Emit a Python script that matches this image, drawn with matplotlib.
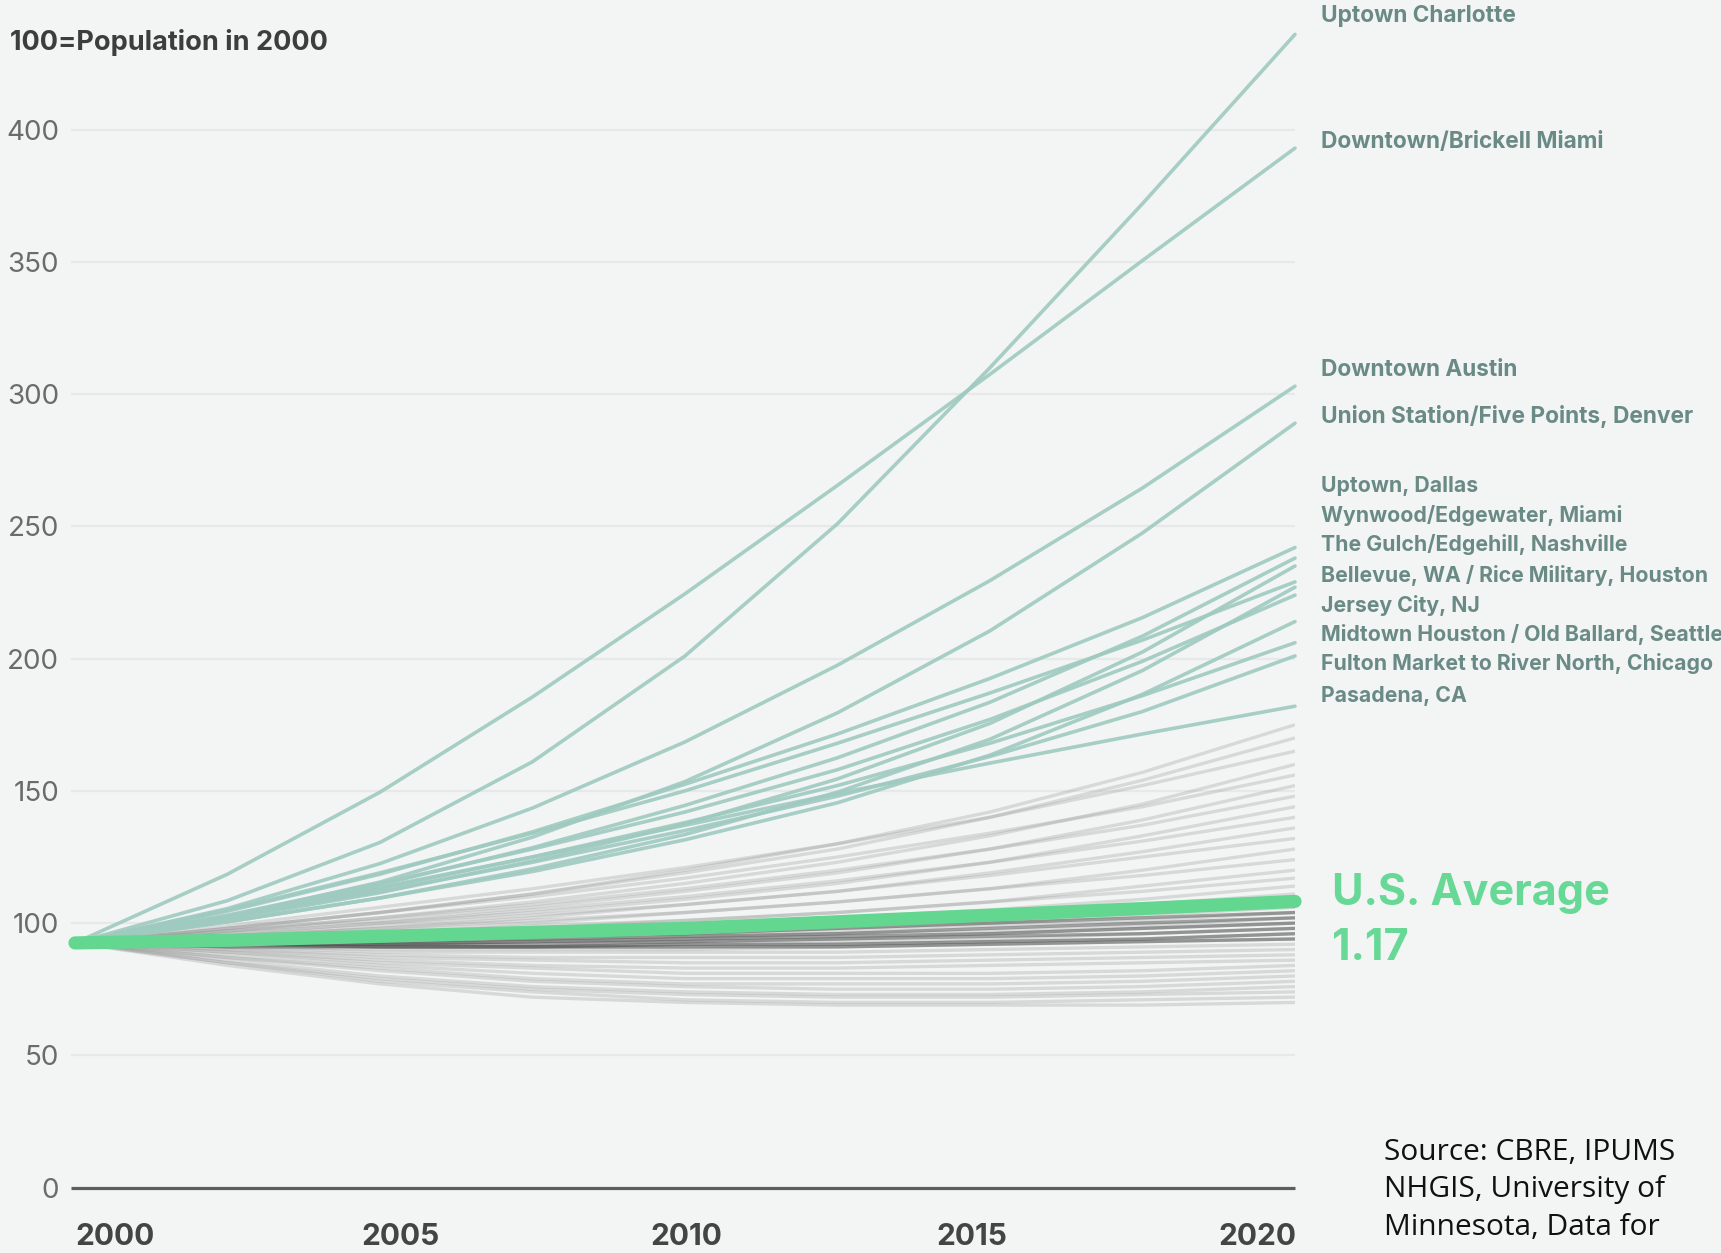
import matplotlib
matplotlib.use("Agg")
import matplotlib.pyplot as plt
import numpy as np

# index values, 100 = population in 2000 (read every 2.5 years)
years = [2000, 2002.5, 2005, 2007.5, 2010, 2012.5, 2015, 2017.5, 2020]

hot_names = ["Uptown Charlotte", "Downtown/Brickell Miami", "Downtown Austin",
             "Union Station/Five Points, Denver", "Uptown, Dallas",
             "Wynwood/Edgewater, Miami", "The Gulch/Edgehill, Nashville",
             "Bellevue, WA", "Rice Military, Houston", "Jersey City, NJ",
             "Midtown Houston", "Old Ballard, Seattle",
             "Fulton Market to River North, Chicago", "Pasadena, CA"]
hot_values = [
    [92.5, 108.5, 130.5, 161, 201, 251, 310, 372, 436],
    [92.5, 118.5, 149.5, 185.5, 224.5, 265.5, 307.5, 350.5, 393],
    [92.5, 105.5, 122.5, 143.5, 168.5, 197.5, 229.5, 264.5, 303],
    [92.5, 102.5, 115.5, 132.5, 153.5, 179.5, 210.5, 247.5, 289],
    [92.5, 104.5, 118.5, 134.5, 152.5, 171.5, 192.5, 215.5, 242],
    [92.5, 102.5, 114.5, 128.5, 144.5, 162.5, 183.5, 208.5, 238],
    [92.5, 101.5, 111.5, 123.5, 137.5, 154.5, 175.5, 202.5, 235],
    [92.5, 105, 119, 134, 150, 168, 187, 207, 229],
    [92.5, 100.5, 109.5, 120.5, 133.5, 149.5, 169.5, 195.5, 227],
    [92.5, 103, 115, 128, 142, 158, 177, 199, 224],
    [92.5, 100.5, 109.5, 119.5, 131.5, 145.5, 163.5, 186.5, 214],
    [92.5, 102, 113, 125, 138, 152, 168, 186, 206],
    [92.5, 102, 112, 123, 135, 148, 163, 180, 201],
    [92.5, 102.5, 113.5, 125, 137, 149, 160.5, 171.5, 182],
]

# right-hand labels (two of them cover a pair of neighbourhoods)
label_names = ["Uptown Charlotte", "Downtown/Brickell Miami", "Downtown Austin",
               "Union Station/Five Points, Denver", "Uptown, Dallas",
               "Wynwood/Edgewater, Miami", "The Gulch/Edgehill, Nashville",
               "Bellevue, WA / Rice Military, Houston", "Jersey City, NJ",
               "Midtown Houston / Old Ballard, Seattle",
               "Fulton Market to River North, Chicago", "Pasadena, CA"]
label_y = [443.0, 395.5, 309, 291.6, 265.2, 254.2, 243.3, 231.5, 220.2, 209.3, 198.3, 186]
label_size = [16.3, 16.3, 16.3, 16.3, 15.3, 15.3, 15.3, 15.3, 15.3, 15.3, 15.3, 15.3]

us_average = [92.5, 93.5, 95, 96.5, 98, 100.5, 103, 105.5, 108.2]
us_ratio = "1.17"

other_values = [
    [92.5, 98, 104, 111, 120, 130, 142, 157, 175],
    [92.5, 98, 104, 111, 119, 128, 140, 154, 170],
    [92.5, 99, 106, 113, 121, 130, 140, 152, 165],
    [92.5, 97, 102, 108, 115, 123, 133, 145, 160],
    [92.5, 98, 104, 110, 117, 125, 134, 144, 156],
    [92.5, 97, 101, 106, 112, 119, 128, 139, 152],
    [92.5, 97, 102, 107, 113, 120, 128, 137, 148],
    [92.5, 96, 100, 104, 109, 115, 123, 133, 144],
    [92.5, 96, 100, 105, 110, 116, 123, 131, 140],
    [92.5, 95, 98, 102, 107, 112, 119, 127, 136],
    [92.5, 95, 99, 103, 107, 112, 118, 125, 132],
    [92.5, 94, 97, 100, 104, 108, 113, 120, 128],
    [92.5, 95, 98, 101, 104, 108, 113, 118, 124],
    [92.5, 94, 96, 98, 101, 104, 108, 114, 120],
    [92.5, 94, 96, 99, 101, 104, 108, 112, 117],
    [92.5, 93, 95, 97, 99, 102, 105, 109, 114],
    [92.5, 94, 95, 97, 99, 101, 104, 107, 111],
    [92.5, 93, 94, 96, 97, 99, 101, 104, 108],
    [92.5, 93, 94, 95, 96, 98, 100, 103, 106],
    [92.5, 93, 93, 94, 95, 97, 99, 101, 104],
    [92.5, 92, 92, 93, 94, 96, 97, 99, 102],
    [92.5, 92, 92, 93, 93, 94, 96, 98, 100],
    [92.5, 92, 91, 91, 92, 93, 94, 96, 98],
    [92.5, 92, 91, 91, 91, 92, 93, 94, 96],
    [92.5, 91, 90, 90, 90, 91, 92, 93, 94],
    [92.5, 91, 89, 89, 89, 89, 90, 91, 92],
    [92.5, 90, 88, 87, 87, 87, 88, 89, 90],
    [92.5, 90, 87, 86, 85, 85, 86, 87, 88],
    [92.5, 89, 86, 84, 83, 83, 84, 85, 86],
    [92.5, 89, 85, 83, 81, 81, 81, 82, 84],
    [92.5, 88, 84, 81, 79, 79, 79, 80, 82],
    [92.5, 87, 83, 79, 77, 77, 77, 78, 80],
    [92.5, 87, 82, 78, 76, 75, 75, 76, 78],
    [92.5, 86, 80, 76, 74, 73, 73, 74, 76],
    [92.5, 85, 79, 75, 73, 72, 72, 73, 74],
    [92.5, 85, 78, 74, 71, 70, 70, 71, 72],
    [92.5, 84, 77, 72, 70, 69, 69, 69, 70],
]
other_dark = [
    [92.5, 93, 94, 95, 96, 98, 100, 102, 104],
    [92.5, 93, 93, 94, 95, 96, 98, 100, 102],
    [92.5, 92, 92, 93, 94, 95, 96, 98, 100],
    [92.5, 92, 92, 92, 93, 94, 95, 96, 98],
    [92.5, 92, 91, 91, 92, 92, 93, 94, 96],
    [92.5, 91, 91, 91, 91, 91, 92, 93, 94],
]

y_ticks = [0, 50, 100, 150, 200, 250, 300, 350, 400]
x_labels = ["2000", "2005", "2010", "2015", "2020"]

W, H = 1721, 1253
BG = "#f2f5f4"
TEAL = "#9fcac0"
LABEL = "#6a8a85"
GREEN = "#63d68f"

plt.rcParams["font.family"] = ["Inter", "DejaVu Sans"]

fig = plt.figure(figsize=(W / 100, H / 100), dpi=100, facecolor=BG)
ax = fig.add_axes([75 / W, 38 / H, 1220 / W, 1215 / H])
ax.set_facecolor(BG)
ax.set_xlim(2000, 2020)
ax.set_ylim(-10.36, 449.0)
for s in ax.spines.values():
    s.set_visible(False)

# grid + baseline
ax.hlines(y_ticks[1:], 1999.93, 2020, color="#e6e9e8", lw=1.6, zorder=0, clip_on=False)
ax.hlines(0, 1999.93, 2020, color="#5a5e5d", lw=2.3, zorder=1, clip_on=False)

for v in other_values:
    ax.plot(years, v, color="#9a9a9a", alpha=0.3, lw=2.4, solid_capstyle="butt",
            solid_joinstyle="round", zorder=2)
for v in other_dark:
    ax.plot(years, v, color="#4f4f4f", alpha=0.5, lw=2.4, solid_capstyle="butt",
            solid_joinstyle="round", zorder=2)
for v in hot_values:
    ax.plot(years, v, color=TEAL, alpha=0.9, lw=2.6, solid_capstyle="round",
            solid_joinstyle="round", zorder=3, clip_on=False)
ax.plot(years, us_average, color=GREEN, lw=9.5, solid_capstyle="round", zorder=4,
        clip_on=False)

ax.set_yticks(y_ticks)
ax.set_yticklabels([str(t) for t in y_ticks], fontsize=20, color="#6b6b6b")
ax.tick_params(axis="y", length=0, pad=11.5)
ax.set_xticks(np.linspace(2000.66, 2019.39, len(x_labels)))
ax.set_xticklabels(x_labels, fontsize=21.5, fontweight="bold", color="#444444")
ax.tick_params(axis="x", length=0, pad=6)

for name, y, fs in zip(label_names, label_y, label_size):
    ax.annotate(name, xy=(2020, y), xytext=(18.7, 0), textcoords="offset points",
                ha="left", va="center", fontsize=fs, fontweight="bold", color=LABEL,
                annotation_clip=False)

fig.text(10 / W, 1 - 43 / H, "100=Population in 2000", fontsize=19.5, fontweight="bold",
         color="#3d3d3d", va="center", ha="left")

fig.text(1332 / W, 1 - 905 / H, "U.S. Average", fontsize=31, fontweight="bold",
         color="#68d896", va="baseline", ha="left")
fig.text(1332 / W, 1 - 960 / H, us_ratio, fontsize=31, fontweight="bold",
         color="#68d896", va="baseline", ha="left")

source_lines = ["Source: CBRE, IPUMS", "NHGIS, University of", "Minnesota, Data for"]
for i, line in enumerate(source_lines):
    fig.text(1384 / W, 1 - (1160 + 37.5 * i) / H, line, fontsize=21.5,
             family=["Open Sans", "DejaVu Sans"], color="#111111", va="baseline", ha="left")

fig.savefig("out.png", dpi=100, facecolor=BG)
